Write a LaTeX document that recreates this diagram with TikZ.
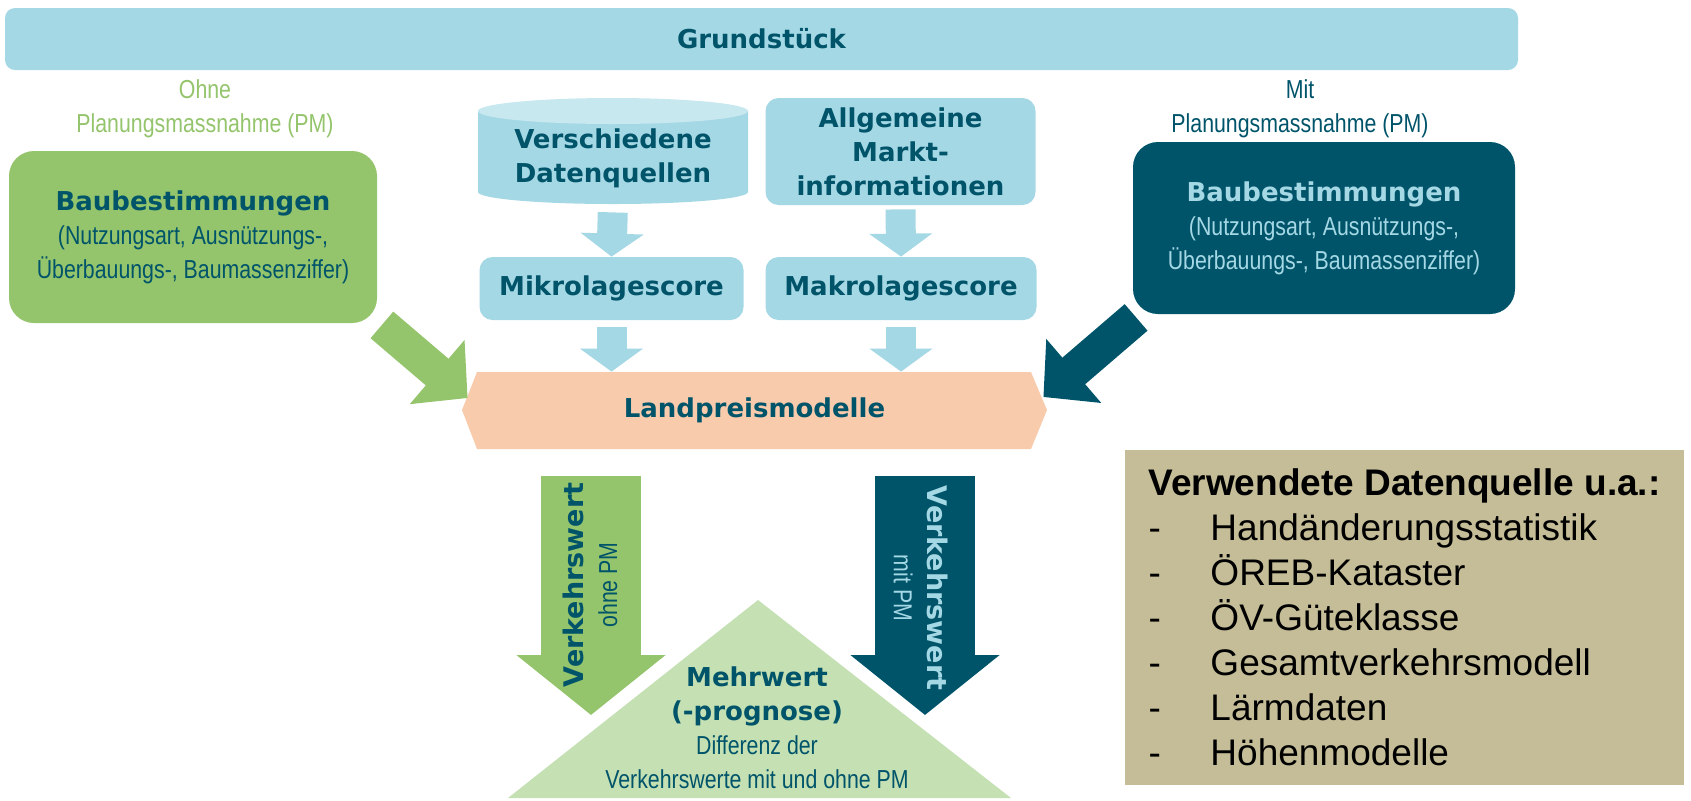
\documentclass[tikz,border=0pt]{standalone}
\usepackage{fontspec}
\setmainfont{Liberation Sans}
\newfontfamily\breitfont{DejaVu Sans}
\newfontfamily\schmalfont[FakeStretch=0.82]{Liberation Sans}
\usetikzlibrary{arrows.meta}

\definecolor{hellblau}{HTML}{A5D8E5}
\definecolor{deckelblau}{HTML}{C8E8F0}
\definecolor{petrol}{HTML}{00546A}
\definecolor{gruen}{HTML}{94C46C}
\definecolor{hellgruen}{HTML}{C5E0B3}
\definecolor{pfirsich}{HTML}{F8CBAD}
\definecolor{sand}{HTML}{C4BD97}

\newcommand{\fett}{\breitfont\bfseries\fontsize{13pt}{17pt}\selectfont}
\newcommand{\schmal}{\schmalfont\mdseries\fontsize{13pt}{17pt}\selectfont}

\tikzset{
	kasten/.style={fill=hellblau, rounded corners=6.5pt, align=center, inner sep=0pt, text=petrol, font=\fett},
	pfeilchen/.style={draw=hellblau, line width=15pt, -{Triangle[length=11.5pt,width=31pt]}},
	schraegpfeil/.style={line width=17.5pt, -{Triangle[length=20pt,width=41pt]}},
	grosspfeil/.style={line width=50pt, -{Triangle[length=30pt,width=73pt]}}
}

\begin{document}
\begin{tikzpicture}[x=0.5pt,y=-0.5pt]
	\useasboundingbox (0,0) rectangle (1691,800);
	% oben
	\node[kasten, rounded corners=5pt, minimum width=756.5pt, minimum height=31pt] (grundstueck) at (761.5,39) {Grundstück};

	% ohne / mit Planungsmassnahme
	\node[text=gruen, font=\schmal, align=center] (ohne) at (205,108.5) {Ohne\\Planungsmassnahme (PM)};
	\node[text=petrol, font=\schmal, align=center] (mit) at (1300,108.5) {Mit\\Planungsmassnahme (PM)};
	\node[kasten, fill=gruen, rounded corners=12.5pt, minimum width=184pt, minimum height=86pt] (baugruen) at (193,237)
		{Baubestimmungen\\{\schmal (Nutzungsart, Ausnützungs-,}\\{\schmal Überbauungs-, Baumassenziffer)}};
	\node[kasten, fill=petrol, text=hellblau, rounded corners=12.5pt, minimum width=191pt, minimum height=86pt] (baupetrol) at (1324,228)
		{Baubestimmungen\\{\schmal (Nutzungsart, Ausnützungs-,}\\{\schmal Überbauungs-, Baumassenziffer)}};

	% Datenquellen (Zylinder)
	\fill[hellblau] (478,111) -- (478,192) arc[start angle=180, end angle=0, x radius=135, y radius=12] -- (748,111) -- cycle;
	\fill[deckelblau] (613,111) ellipse [x radius=135, y radius=13];
	\node[kasten, fill=none, minimum width=135pt, minimum height=46pt] (daten) at (613,158) {Verschiedene\\Datenquellen};
	\node[kasten, minimum width=135pt, minimum height=53.5pt] (markt) at (900.5,151.5) {Allgemeine\\Markt-\\informationen};
	\node[kasten, minimum width=132pt, minimum height=31.5pt] (mikro) at (611.5,288.5) {Mikrolagescore};
	\node[kasten, minimum width=135.5pt, minimum height=31.5pt] (makro) at (901,288.5) {Makrolagescore};

	% Landpreismodelle
	\fill[pfirsich] (462,410) -- (477,372) -- (1031,372) -- (1047,410) -- (1031,449) -- (477,449) -- cycle;
	\node[text=petrol, font=\fett, minimum width=292.5pt, minimum height=38.5pt, inner sep=0pt] (landpreis) at (754.5,410.5) {Landpreismodelle};

	\draw[pfeilchen, shorten <=4pt] (daten.south) -- (mikro.north);
	\draw[pfeilchen, shorten <=2pt] (markt.south) -- (makro.north);
	\draw[pfeilchen, shorten <=3.5pt] (mikro.south) -- (landpreis.north -| mikro.south);
	\draw[pfeilchen, shorten <=3.5pt] (makro.south) -- (landpreis.north -| makro.south);
	\draw[schraegpfeil, draw=gruen] ([xshift=2.25pt,yshift=-0.75pt]baugruen.south east) -- ([xshift=3pt,yshift=6.25pt]landpreis.west);
	\draw[schraegpfeil, draw=petrol] ([xshift=1.75pt,yshift=-1.5pt]baupetrol.south west) -- ([xshift=-2pt,yshift=6.75pt]landpreis.east);

	% Mehrwert
	\fill[hellgruen] (758,600) -- (1011,798) -- (508,798) -- cycle;
	\node[text=petrol, font=\fett, align=center] (mehrwert) at (757,728)
		{Mehrwert\\(-prognose)\\{\schmal Differenz der}\\{\schmal Verkehrswerte mit und ohne PM}};

	\coordinate (spitzeohne) at (591,715);
	\coordinate (spitzemit) at (925,715);
	\draw[grosspfeil, draw=gruen, shorten <=13.5pt] (landpreis.south -| spitzeohne) -- (spitzeohne);
	\draw[grosspfeil, draw=petrol, shorten <=13.5pt] (landpreis.south -| spitzemit) -- (spitzemit);
	\node[rotate=90, text=petrol, font=\fett, align=center] (wertohne) at (590,585)
		{{\fontsize{13.5pt}{18pt}\selectfont Verkehrswert}\\{\schmal ohne PM}};
	\node[rotate=-90, text=hellblau, font=\fett, align=center] (wertmit) at (921,588)
		{{\fontsize{13.5pt}{16pt}\selectfont Verkehrswert}\\{\schmal mit PM}};

	% Datenquellen
	\node[fill=sand, minimum width=279.5pt, minimum height=167.5pt, align=left, font=\fontsize{18.5pt}{22.5pt}\selectfont] (quellen) at (1404.5,617.5)
		{\textbf{Verwendete Datenquelle u.a.:}\\
		\makebox[31pt][l]{-}Handänderungsstatistik\\
		\makebox[31pt][l]{-}ÖREB-Kataster\\
		\makebox[31pt][l]{-}ÖV-Güteklasse\\
		\makebox[31pt][l]{-}Gesamtverkehrsmodell\\
		\makebox[31pt][l]{-}Lärmdaten\\
		\makebox[31pt][l]{-}Höhenmodelle};
\end{tikzpicture}
\end{document}
